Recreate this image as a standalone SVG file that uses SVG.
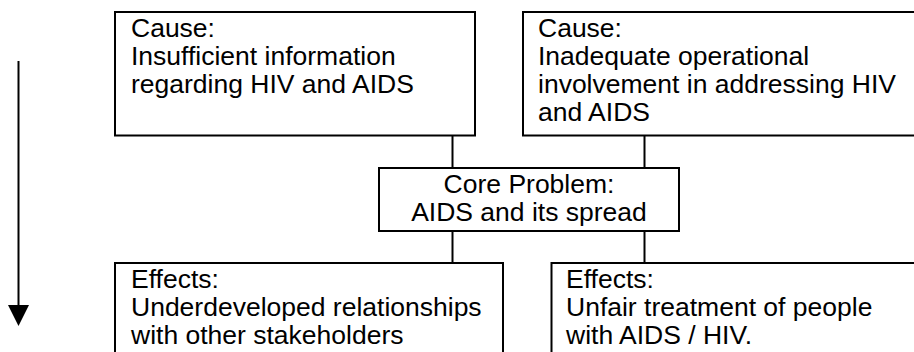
<svg xmlns="http://www.w3.org/2000/svg" width="914" height="352" viewBox="0 0 914 352">
  <style>
    .box { fill: #ffffff; stroke: #000000; stroke-width: 2; }
    .conn { stroke: #000000; stroke-width: 2; fill: none; }
    text { font-family: "Liberation Sans", Arial, sans-serif; font-size: 26.5px; fill: #000000; }
    .c { text-anchor: middle; }
  </style>
  <rect width="914" height="352" fill="#ffffff"/>

  <g id="connectors">
    <line class="conn" x1="452.5" y1="135.5" x2="452.5" y2="168"/>
    <line class="conn" x1="644.5" y1="135.5" x2="644.5" y2="168"/>
    <line class="conn" x1="452.5" y1="231" x2="452.5" y2="263"/>
    <line class="conn" x1="644.5" y1="231" x2="644.5" y2="263"/>
    <line class="conn" x1="18.5" y1="61" x2="18.5" y2="305"/>
    <path d="M8,305 L29,305 L18.5,326 Z" fill="#000000"/>
  </g>

  <g id="cause1">
    <rect class="box" x="115" y="12" width="360" height="123.5"/>
    <text x="131" y="36.5">Cause:</text>
    <text x="131" y="64.5">Insufficient information</text>
    <text x="131" y="92.5">regarding HIV and AIDS</text>
  </g>

  <g id="cause2">
    <rect class="box" x="523" y="12" width="400" height="123.5"/>
    <text x="538" y="36.5">Cause:</text>
    <text x="538" y="64.5">Inadequate operational</text>
    <text x="538" y="92.5">involvement in addressing HIV</text>
    <text x="538" y="120.5">and AIDS</text>
  </g>

  <g id="core">
    <rect class="box" x="379" y="168" width="300" height="63"/>
    <text class="c" x="529" y="193">Core Problem:</text>
    <text class="c" x="529" y="221">AIDS and its spread</text>
  </g>

  <g id="effect1">
    <rect class="box" x="115" y="263" width="388" height="110"/>
    <text x="131" y="287.5">Effects:</text>
    <text x="131" y="315.5">Underdeveloped relationships</text>
    <text x="131" y="343.5">with other stakeholders</text>
  </g>

  <g id="effect2">
    <rect class="box" x="551.5" y="263" width="380" height="110"/>
    <text x="566" y="287.5">Effects:</text>
    <text x="566" y="315.5">Unfair treatment of people</text>
    <text x="566" y="343.5">with AIDS / HIV.</text>
  </g>
</svg>
